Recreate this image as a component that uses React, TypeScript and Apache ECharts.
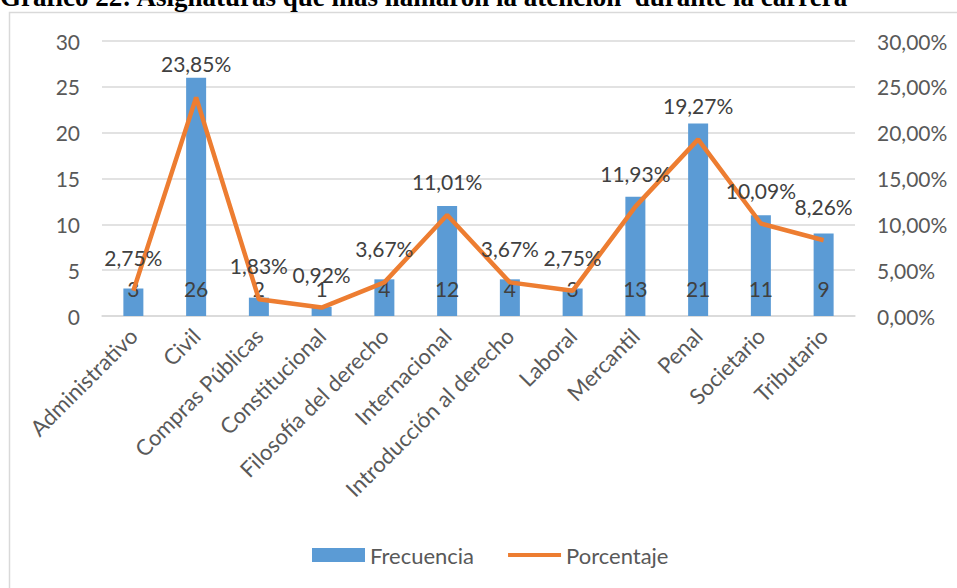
import React, { useEffect, useRef } from "react";
import * as echarts from "echarts";

const categories = [
  "Administrativo",
  "Civil",
  "Compras Públicas",
  "Constitucional",
  "Filosofía del derecho",
  "Internacional",
  "Introducción al derecho",
  "Laboral",
  "Mercantil",
  "Penal",
  "Societario",
  "Tributario",
];
const frecuencia = [3, 26, 2, 1, 4, 12, 4, 3, 13, 21, 11, 9];
const porcentaje = [2.75, 23.85, 1.83, 0.92, 3.67, 11.01, 3.67, 2.75, 11.93, 19.27, 10.09, 8.26];
const titleText = "Gráfico 22: Asignaturas que más llamaron la atención  durante la carrera";

const FONT = "Lato, 'Open Sans', sans-serif";
const fmtPct = (v: number) => v.toFixed(2).replace(".", ",") + "%";

export default function App() {
  const ref = useRef<HTMLDivElement>(null);
  useEffect(() => {
    document.body.style.margin = "0";
    const chart = echarts.init(ref.current!, undefined, { renderer: "svg" });
    chart.setOption({
      animation: false,
      backgroundColor: "#ffffff",
      textStyle: { fontFamily: FONT },
      graphic: [
        {
          type: "rect",
          shape: { x: 9.5, y: 12.5, width: 1000, height: 700 },
          style: { fill: "none", stroke: "#D9D9D9", lineWidth: 1.5 },
          silent: true,
        },
        {
          type: "text",
          x: 0,
          y: -17,
          style: {
            text: titleText,
            font: "bold 27px 'Liberation Serif', 'Times New Roman', serif",
            fill: "#000000",
            verticalAlign: "top",
          },
        },
      ],
      grid: { left: 102, right: 102, top: 41, bottom: 272 },
      legend: {
        top: 539,
        left: 307,
        itemWidth: 53,
        itemHeight: 14,
        itemGap: 34,
        textStyle: { color: "#595959", fontSize: 22, fontFamily: FONT },
        data: [
          { name: "Frecuencia", icon: "rect" },
          {
            name: "Porcentaje",
            icon: "path://M0,0 L53,0 L53,4 L0,4 Z",
          },
        ],
      },
      xAxis: {
        type: "category",
        data: categories,
        axisLine: { lineStyle: { color: "#D9D9D9", width: 1.5 } },
        axisTick: { show: false },
        axisLabel: {
          rotate: 45,
          color: "#595959",
          fontSize: 22,
          margin: 16,
          interval: 0,
          fontFamily: FONT,
        },
      },
      yAxis: [
        {
          type: "value",
          min: 0,
          max: 30,
          interval: 5,
          axisLine: { show: false },
          axisTick: { show: false },
          splitLine: { lineStyle: { color: "#D9D9D9", width: 1.5 } },
          axisLabel: { color: "#595959", fontSize: 21, margin: 22, fontFamily: FONT },
        },
        {
          type: "value",
          min: 0,
          max: 30,
          interval: 5,
          axisLine: { show: false },
          axisTick: { show: false },
          splitLine: { show: false },
          axisLabel: {
            color: "#595959",
            fontSize: 21,
            margin: 22,
            fontFamily: FONT,
            formatter: (v: number) => fmtPct(v),
          },
        },
      ],
      series: [
        {
          name: "Frecuencia",
          type: "bar",
          data: frecuencia,
          barWidth: 20,
          itemStyle: { color: "#5B9BD5" },
          label: {
            show: true,
            position: "insideBottom",
            distance: 17,
            color: "#404040",
            fontSize: 21,
            fontFamily: FONT,
          },
          z: 2,
        },
        {
          name: "Porcentaje",
          type: "line",
          yAxisIndex: 1,
          data: porcentaje,
          symbol: "circle",
          symbolSize: 0.01,
          showSymbol: true,
          lineStyle: { color: "#ED7D31", width: 4.5 },
          itemStyle: { color: "#ED7D31" },
          label: {
            show: true,
            position: "top",
            distance: 23,
            color: "#404040",
            fontSize: 21,
            fontFamily: FONT,
            formatter: (p: any) => fmtPct(p.value),
          },
          z: 3,
        },
      ],
    });
    return () => chart.dispose();
  }, []);
  return (
    <div
      ref={ref}
      style={{ position: "absolute", left: 0, top: 0, width: 957, height: 588 }}
    />
  );
}
